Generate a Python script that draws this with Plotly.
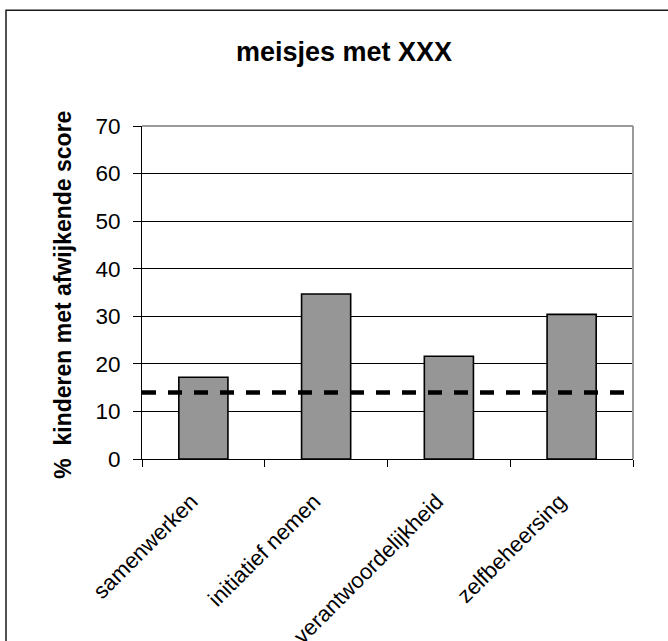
import plotly.graph_objects as go

# Share of girls with a deviating score per domain
categories = ["samenwerken", "initiatief nemen", "verantwoordelijkheid", "zelfbeheersing"]
values = [17.2, 34.7, 21.6, 30.4]
reference_level = 14.0
y_ticks = [0, 10, 20, 30, 40, 50, 60, 70]

title_text = "meisjes met XXX"
y_title = "%  kinderen met afwijkende score"

FONT = "Liberation Sans, Arial, sans-serif"

fig = go.Figure()
fig.add_trace(go.Bar(
    x=categories,
    y=values,
    marker=dict(color="#969696", line=dict(color="#000000", width=1.6)),
    width=0.4,
    showlegend=False,
))

# Reference level across the full plot width
fig.add_shape(type="line", xref="paper", x0=0, x1=1, yref="y",
              y0=reference_level, y1=reference_level,
              line=dict(color="#000000", width=4.5, dash="14px,12px"), layer="above")

# Grey plot-area frame on top and right
fig.add_shape(type="line", xref="paper", yref="paper", x0=0, x1=1, y0=1, y1=1,
              line=dict(color="#999999", width=2), layer="above")
fig.add_shape(type="line", xref="paper", yref="paper", x0=1, x1=1, y0=0, y1=1,
              line=dict(color="#999999", width=2), layer="above")

# Outer chart border (left and top edges visible)
fig.add_shape(type="rect", xref="paper", yref="paper",
              x0=(6 - 142) / 491, x1=(700 - 142) / 491,
              y0=(459.5 - 700) / 333.5, y1=(459.5 - 10) / 333.5,
              line=dict(color="#1a1a1a", width=1.5), layer="below")

fig.add_annotation(text="<b>" + y_title + "</b>", xref="paper", yref="paper",
                   x=(63 - 142) / 491, y=(459.5 - 295) / 333.5,
                   xanchor="center", yanchor="middle", textangle=-90,
                   showarrow=False, font=dict(family=FONT, size=23, color="#000000"))

fig.update_layout(
    width=668, height=641,
    margin=dict(l=142, r=35, t=126, b=181.5),
    paper_bgcolor="#ffffff", plot_bgcolor="#ffffff",
    title=dict(text="<b>" + title_text + "</b>", xref="container", yref="container",
               x=344 / 668, y=1 - 52 / 641, xanchor="center", yanchor="middle",
               font=dict(family=FONT, size=27, color="#000000")),
    font=dict(family=FONT, color="#000000"),
    bargap=0.6,
)

fig.update_yaxes(
    range=[0, 70], tickvals=y_ticks, ticktext=[str(v) for v in y_ticks],
    showgrid=True, gridcolor="#000000", gridwidth=1,
    showline=True, linecolor="#000000", linewidth=1,
    ticks="outside", ticklen=8, tickcolor="#000000", tickwidth=1,
    tickfont=dict(family=FONT, size=22.5, color="#000000"),
    ticklabelstandoff=8, zeroline=False, automargin=False,
)
fig.update_xaxes(
    showline=True, linecolor="#000000", linewidth=1,
    ticks="outside", ticklen=7, tickcolor="#000000", tickwidth=1,
    tickson="boundaries", tickangle=-45,
    tickfont=dict(family=FONT, size=22, color="#000000"),
    ticklabelstandoff=20, ticklabelshift=-12,
    showgrid=False, zeroline=False, automargin=False,
)

fig.write_html("out.html")
